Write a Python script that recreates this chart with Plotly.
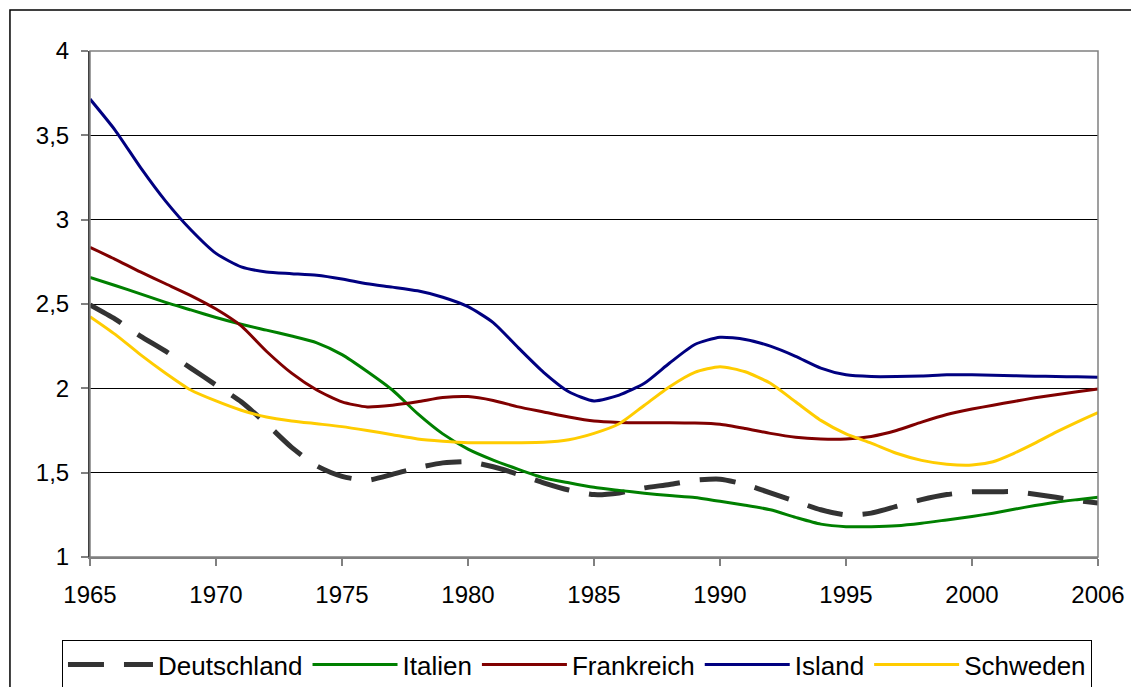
import plotly.graph_objects as go

YEARS = list(range(1965, 2007))
TICK_YEARS = [1965, 1970, 1975, 1980, 1985, 1990, 1995, 2000, 2006]

deutschland = [2.494, 2.41, 2.31, 2.22, 2.12, 2.02, 1.92, 1.79, 1.65, 1.54,
               1.478, 1.455, 1.49, 1.53, 1.558, 1.565, 1.535, 1.49, 1.44, 1.397,
               1.37, 1.38, 1.41, 1.43, 1.455, 1.461, 1.43, 1.38, 1.33, 1.28,
               1.249, 1.26, 1.30, 1.34, 1.37, 1.387, 1.387, 1.387, 1.372, 1.354,
               1.335, 1.32]
italien = [2.658, 2.61, 2.56, 2.51, 2.465, 2.42, 2.38, 2.345, 2.31, 2.27,
           2.20, 2.10, 1.99, 1.85, 1.73, 1.64, 1.575, 1.52, 1.47, 1.44,
           1.413, 1.395, 1.378, 1.364, 1.353, 1.33, 1.307, 1.28, 1.235, 1.195,
           1.18, 1.18, 1.185, 1.20, 1.22, 1.24, 1.26, 1.283, 1.305, 1.325,
           1.34, 1.354]
frankreich = [2.836, 2.765, 2.69, 2.62, 2.55, 2.47, 2.37, 2.22, 2.09, 1.99,
              1.92, 1.89, 1.90, 1.92, 1.945, 1.951, 1.928, 1.89, 1.86, 1.83,
              1.806, 1.798, 1.796, 1.796, 1.794, 1.787, 1.762, 1.733, 1.71, 1.70,
              1.70, 1.715, 1.75, 1.80, 1.845, 1.877, 1.90, 1.922, 1.944, 1.962,
              1.98, 1.996]
island = [3.715, 3.53, 3.31, 3.11, 2.94, 2.80, 2.72, 2.69, 2.68, 2.67,
          2.648, 2.62, 2.60, 2.578, 2.54, 2.484, 2.39, 2.24, 2.095, 1.98,
          1.925, 1.96, 2.03, 2.15, 2.26, 2.303, 2.29, 2.25, 2.19, 2.12,
          2.08, 2.07, 2.07, 2.073, 2.08, 2.08, 2.078, 2.075, 2.072, 2.07,
          2.068, 2.065]
schweden = [2.425, 2.32, 2.20, 2.09, 1.99, 1.925, 1.87, 1.83, 1.807, 1.79,
            1.773, 1.75, 1.725, 1.70, 1.687, 1.678, 1.678, 1.678, 1.68, 1.695,
            1.733, 1.79, 1.90, 2.01, 2.095, 2.128, 2.098, 2.03, 1.92, 1.81,
            1.73, 1.675, 1.615, 1.573, 1.55, 1.545, 1.565, 1.615, 1.675, 1.74,
            1.80, 1.856]

SERIES = [
    ("Deutschland", deutschland, "#333333", 5, "36px,20px"),
    ("Italien", italien, "#008000", 3, "solid"),
    ("Frankreich", frankreich, "#800000", 3, "solid"),
    ("Island", island, "#000080", 3, "solid"),
    ("Schweden", schweden, "#FFCC00", 3, "solid"),
]


def axis_pos(year):
    # category-style axis: each labelled tick is equally spaced
    if year <= 2000:
        return year - 1965
    return 35 + (year - 2000) * 5 / 6


xpos = [axis_pos(y) for y in YEARS]
tickpos = [axis_pos(y) for y in TICK_YEARS]

fig = go.Figure()
for name, vals, color, width, dash in SERIES:
    fig.add_trace(go.Scatter(
        x=xpos, y=vals, name=name, mode="lines",
        line=dict(color=color, width=width, dash=dash, shape="spline", smoothing=0.6),
        customdata=YEARS,
        hovertemplate="%{customdata}: %{y}<extra>" + name + "</extra>",
    ))

FONT = "Liberation Sans, Arial, sans-serif"

fig.update_layout(
    width=1131, height=679,
    margin=dict(l=82, r=41, t=43, b=130, autoexpand=False),
    paper_bgcolor="white", plot_bgcolor="white",
    separators=",.",
    font=dict(family=FONT, size=24, color="black"),
    showlegend=True,
    legend=dict(
        orientation="h", x=-0.0278, y=-0.164, xanchor="left", yanchor="top",
        bordercolor="black", borderwidth=1, bgcolor="white",
        font=dict(family=FONT, size=26, color="black"),
        itemwidth=85,
        tracegroupgap=0,
    ),
    xaxis=dict(
        range=[0, 40], tickvals=tickpos, ticktext=[str(y) for y in TICK_YEARS],
        showgrid=False, zeroline=False,
        showline=True, linecolor="#808080", linewidth=1.5,
        ticks="outside", ticklen=7, tickwidth=1.5, tickcolor="#808080",
        ticklabelstandoff=8,
        tickfont=dict(family=FONT, size=24, color="black"),
    ),
    yaxis=dict(
        range=[1, 4], dtick=0.5, tick0=1,
        showgrid=True, gridcolor="black", gridwidth=1,
        zeroline=False,
        showline=True, linecolor="#404040", linewidth=2,
        ticks="outside", ticklen=7, tickwidth=1.5, tickcolor="#808080",
        ticklabelstandoff=7,
        tickfont=dict(family=FONT, size=24, color="black"),
    ),
    shapes=[
        # plot-area frame (grey, top and right)
        dict(type="rect", xref="paper", yref="paper", x0=0, x1=1, y0=0, y1=1,
             line=dict(color="#808080", width=1.5), layer="above"),
        # outer chart border
        dict(type="rect", xref="paper", yref="paper",
             x0=-0.0794, x1=1.06, y0=-0.28, y1=1.081,
             line=dict(color="black", width=1.5), layer="below"),
    ],
)

fig.write_html("out.html")
